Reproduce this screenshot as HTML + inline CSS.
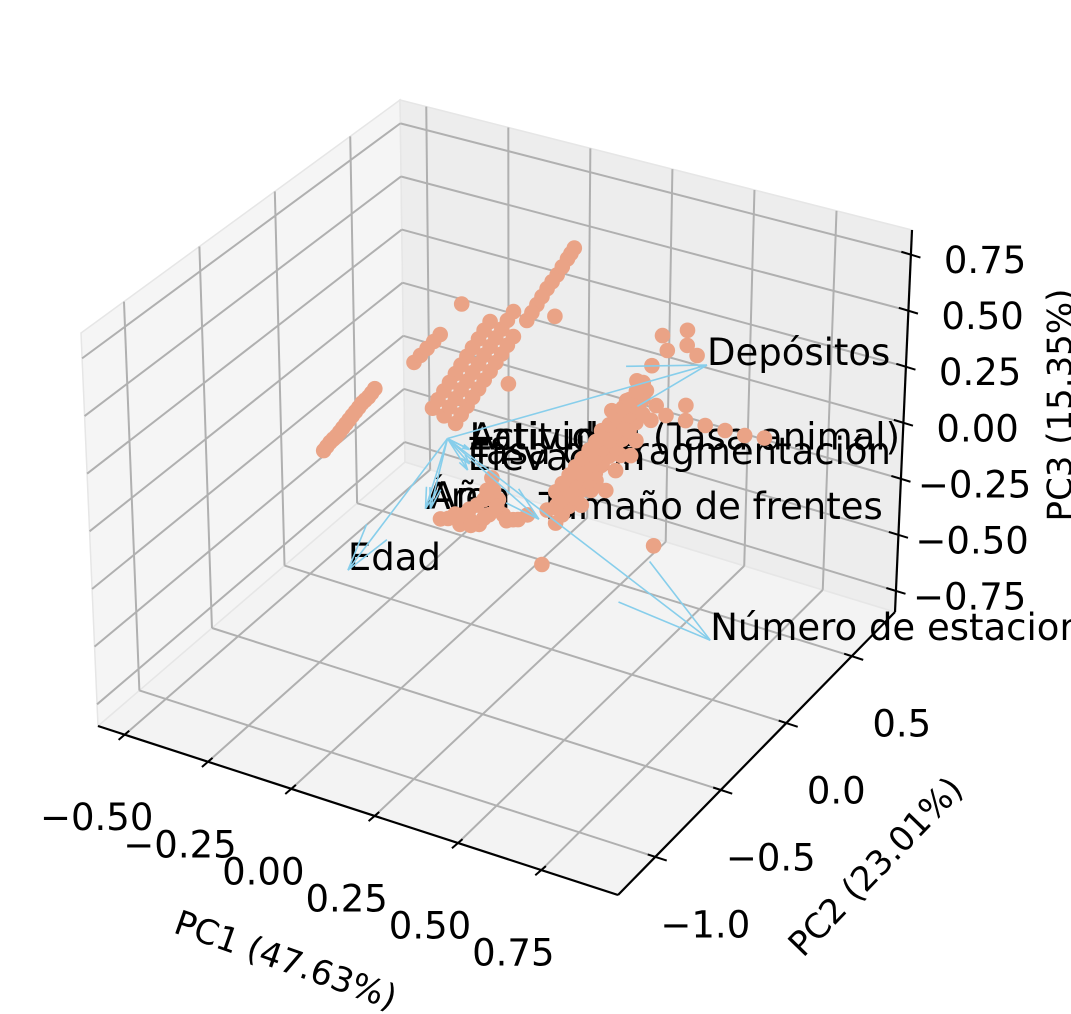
<!DOCTYPE html>
<html><head><meta charset="utf-8"><style>
html,body{margin:0;padding:0;background:#fff;}
svg{display:block;font-family:"DejaVu Sans","Liberation Sans",sans-serif;}
</style></head><body>
<svg id="chart" width="1071" height="1014" viewBox="0 0 1071 1014" xmlns="http://www.w3.org/2000/svg">
<g id="panes"></g>
<g id="grid"></g>
<g id="axes"></g>
<g id="ticks"></g>
<g id="loadtext"></g>
<g id="points"></g>
<g id="arrows"></g>
<text x="285" y="962" font-size="34" text-anchor="middle" dominant-baseline="middle" transform="rotate(19.5 285 962)">PC1 (47.63%)</text>
<text x="877" y="868" font-size="34" text-anchor="middle" dominant-baseline="middle" transform="rotate(-46 877 868)">PC2 (23.01%)</text>
<text x="1062" y="405" font-size="34" text-anchor="middle" dominant-baseline="middle" transform="rotate(-90 1062 405)">PC3 (15.35%)</text>
</svg>
<script>
// axis ranges and ticks
const pc1Range = [-0.58, 0.98];
const pc2Range = [-1.285, 0.83];
const pc3Range = [-0.844, 0.86];
const pc1Ticks = [-0.5, -0.25, 0, 0.25, 0.5, 0.75];
const pc1TickLabels = ["\u22120.50", "\u22120.25", "0.00", "0.25", "0.50", "0.75"];
const pc2Ticks = [-1.0, -0.5, 0, 0.5];
const pc2TickLabels = ["\u22121.0", "\u22120.5", "0.0", "0.5"];
const pc3Ticks = [-0.75, -0.5, -0.25, 0, 0.25, 0.5, 0.75];
const pc3TickLabels = ["\u22120.75", "\u22120.50", "\u22120.25", "0.00", "0.25", "0.50", "0.75"];

// scores (PC1, PC2, PC3)
const pc1Vals = [
-0.45,-0.43,-0.41,-0.39,-0.37,-0.35,-0.33,-0.31,-0.29,-0.44,-0.42,-0.40,-0.38,-0.36,-0.34,-0.32,-0.30,
-0.17,-0.15,-0.13,-0.11,-0.09,
-0.08,-0.045,-0.01,0.025,0.06,0.095,0.13,
-0.115,-0.08,-0.045,-0.01,0.025,0.06,
-0.045,-0.01,0.025,0.06,0.095,0.13,
-0.063,-0.028,0.007,0.042,0.077,0.112,
-0.098,-0.063,-0.028,0.007,0.042,
-0.028,0.007,0.042,0.077,0.112,
0.17,0.20,0.23,0.26,0.29,0.31,0.185,0.215,0.245,0.275,0.30,
-0.093,-0.048,-0.004,0.041,0.07,-0.004,0.056,0.10,0.085,0.13,0.026,-0.033,0.174,0.263,0.065,0.145,
0.278,0.323,0.367,0.308,0.352,0.397,0.367,0.412,0.441,0.397,0.441,0.486,0.471,0.516,0.530,0.427,0.456,0.501,0.382,0.234,0.338,0.545,0.441,0.486,0.412,
0.59,0.649,0.708,0.768,0.827,0.886,0.649,0.56,
0.501,0.545,0.59,0.649,0.575,0.649,0.679,
0.219,0.56,-0.025,0.115,0.254,
0.26,0.28,0.30,0.32,0.34,0.36,0.38,0.40,0.42,0.44,0.46,0.48,0.50,0.52,
0.26,0.28,0.30,0.32,0.34,0.36,0.38,0.40,0.42,0.44,0.46,0.48,0.50,0.52,
0.26,0.28,0.30,0.32,0.34,0.36,0.38,0.40,0.42,0.44,0.46,0.48,0.50,0.52,
-0.07,-0.02,0.02,0.04,0.08,0.11,0.05,0.0];
const pc2Vals = pc1Vals.map(function(){return 0;});
const pc3Vals = [
-0.262,-0.216,-0.179,-0.133,-0.087,-0.041,0.006,0.042,0.089,-0.239,-0.197,-0.156,-0.11,-0.064,-0.018,0.024,0.065,
0.26,0.30,0.34,0.38,0.42,
0.058,0.151,0.244,0.337,0.43,0.523,0.616,
0.077,0.17,0.263,0.356,0.449,0.542,
0.039,0.132,0.225,0.318,0.411,0.504,
0.105,0.198,0.29,0.383,0.476,0.569,
0.123,0.216,0.309,0.402,0.495,
0.086,0.179,0.272,0.365,0.458,
0.593,0.677,0.761,0.835,0.919,0.975,0.635,0.719,0.798,0.877,0.947,
-0.412,-0.37,-0.329,-0.266,-0.21,-0.373,-0.327,-0.308,-0.247,-0.317,-0.384,-0.41,-0.276,-0.194,-0.158,-0.31,
-0.164,-0.123,-0.082,-0.063,0.0,0.042,0.074,0.137,0.194,0.197,0.261,0.302,0.362,0.382,0.432,0.299,0.112,0.197,-0.032,-0.228,-0.161,0.306,0.038,0.124,-0.063,
0.346,0.349,0.352,0.355,0.358,0.371,0.416,0.378,
0.463,0.549,0.635,0.682,0.695,0.749,0.65,
-0.478,-0.245,0.585,0.286,0.647,
-0.275,-0.229,-0.183,-0.137,-0.091,-0.045,0.001,0.047,0.093,0.139,0.185,0.231,0.277,0.323,
-0.205,-0.159,-0.113,-0.067,-0.021,0.025,0.071,0.117,0.163,0.209,0.255,0.301,0.347,0.393,
-0.135,-0.089,-0.043,0.003,0.049,0.095,0.141,0.187,0.233,0.279,0.325,0.371,0.417,0.463,
-0.40,-0.36,-0.30,-0.35,-0.28,-0.33,-0.22,-0.40];

// loadings
const loadNames = ["Depósitos","Edad","Número de estaciones","Latitud","Actividad (Tasa animal)","Tasa de fragmentación","Elevación","Área","Año","Tamaño de frentes"];
const load1 = [0.709,-0.382,0.739,-0.003,-0.003,-0.003,-0.009,-0.139,-0.124,0.209];
const load2 = [0,0,0,0,0,0,0,0,0,0];
const load3 = [0.62,-0.774,-0.585,-0.06,-0.06,-0.125,-0.155,-0.387,-0.380,-0.28];
const arrowOrigin = [-0.07, 0, -0.04];

// box corners in screen space (floor / top)
const F00=[98,726],F10=[618,895],F01=[405,462],F11=[895,612];
const T00=[81,333],T10=[625,500],T01=[400,100],T11=[912,230];
function bil(a,b,c,d,u,v){return [(1-u)*(1-v)*a[0]+u*(1-v)*b[0]+(1-u)*v*c[0]+u*v*d[0],(1-u)*(1-v)*a[1]+u*(1-v)*b[1]+(1-u)*v*c[1]+u*v*d[1]];}
function proj(p1,p2,p3){
  const u=(p1-pc1Range[0])/(pc1Range[1]-pc1Range[0]);
  const v=(p2-pc2Range[0])/(pc2Range[1]-pc2Range[0]);
  const w=(p3-pc3Range[0])/(pc3Range[1]-pc3Range[0]);
  const f=bil(F00,F10,F01,F11,u,v), t=bil(T00,T10,T01,T11,u,v);
  return [f[0]+(t[0]-f[0])*w, f[1]+(t[1]-f[1])*w];
}
const NS="http://www.w3.org/2000/svg";
function mk(tag,attrs,parent){const e=document.createElementNS(NS,tag);for(const k in attrs)e.setAttribute(k,attrs[k]);parent.appendChild(e);return e;}
function line(a,b,stroke,sw,parent){return mk('line',{x1:a[0],y1:a[1],x2:b[0],y2:b[1],stroke:stroke,'stroke-width':sw},parent);}
const [X0,X1]=pc1Range,[Y0,Y1]=pc2Range,[Z0,Z1]=pc3Range;

// panes
const gP=document.getElementById('panes');
function poly(pts,fill,name){const p=mk('polygon',{points:pts.map(q=>q.join(',')).join(' '),fill:fill,stroke:'#e6e6e6','stroke-width':1.5},gP);

}
poly([proj(X0,Y0,Z0),proj(X1,Y0,Z0),proj(X1,Y1,Z0),proj(X0,Y1,Z0)],'#f3f3f3','floor-pane');
poly([proj(X0,Y0,Z0),proj(X0,Y1,Z0),proj(X0,Y1,Z1),proj(X0,Y0,Z1)],'#f5f5f5','left-pane');
poly([proj(X0,Y1,Z0),proj(X1,Y1,Z0),proj(X1,Y1,Z1),proj(X0,Y1,Z1)],'#ededed','back-pane');

// grid
const gG=document.getElementById('grid');
const GC='#b0b0b0';
pc1Ticks.forEach(t=>{
  const l1=line(proj(t,Y0,Z0),proj(t,Y1,Z0),GC,2,gG);
  
  
  const l2=line(proj(t,Y1,Z0),proj(t,Y1,Z1),GC,2,gG);
  
  
});
pc2Ticks.forEach(t=>{
  const l1=line(proj(X1,t,Z0),proj(X0,t,Z0),GC,2,gG);
  
  
  const l2=line(proj(X0,t,Z0),proj(X0,t,Z1),GC,2,gG);
  
  
});
pc3Ticks.forEach(t=>{
  const l1=line(proj(X0,Y0,t),proj(X0,Y1,t),GC,2,gG);
  
  
  const l2=line(proj(X0,Y1,t),proj(X1,Y1,t),GC,2,gG);
  
  
});

// axis lines
const gA=document.getElementById('axes');
let ax=line(proj(X0,Y0,Z0),proj(X1,Y0,Z0),'#000',2.2,gA);


ax=line(proj(X1,Y0,Z0),proj(X1,Y1,Z0),'#000',2.2,gA);


ax=line(proj(X1,Y1,Z0),proj(X1,Y1,Z1),'#000',2.2,gA);



function unit(a,b){const dx=b[0]-a[0],dy=b[1]-a[1],l=Math.hypot(dx,dy);return [dx/l,dy/l];}
const gT=document.getElementById('ticks');
const d2=unit(proj(X0,Y1,Z0),proj(X0,Y0,Z0));
pc1Ticks.forEach((t,i)=>{
  const p=proj(t,Y0,Z0);
  const tk=line([p[0]-d2[0]*6,p[1]-d2[1]*6],[p[0]+d2[0]*8,p[1]+d2[1]*8],'#000',2,gT);
  
  
  const tx=mk('text',{x:p[0]-28,y:p[1]+85,'font-size':37,'text-anchor':'middle','dominant-baseline':'middle'},gT);
  tx.textContent=pc1TickLabels[i];
  
  
});
const d1=unit(proj(X0,Y0,Z0),proj(X1,Y0,Z0));
pc2Ticks.forEach((t,i)=>{
  const p=proj(X1,t,Z0);
  const tk=line([p[0]-d1[0]*8,p[1]-d1[1]*8],[p[0]+d1[0]*12,p[1]+d1[1]*12],'#000',2,gT);
  
  
  const tx=mk('text',{x:p[0]+50,y:p[1]+70,'font-size':37,'text-anchor':'middle','dominant-baseline':'middle'},gT);
  tx.textContent=pc2TickLabels[i];
  
  
});
const d1b=unit(proj(X0,Y1,Z0),proj(X1,Y1,Z0));
pc3Ticks.forEach((t,i)=>{
  const p=proj(X1,Y1,t);
  const tk=line([p[0]-d1b[0]*10,p[1]-d1b[1]*10],[p[0]+d1b[0]*10,p[1]+d1b[1]*10],'#000',2,gT);
  
  
  const tx=mk('text',{x:p[0]+(t<0?17:33),y:p[1]+8,'font-size':37,'text-anchor':'start','dominant-baseline':'middle'},gT);
  tx.textContent=pc3TickLabels[i];
  
  
});

// loading labels
const gL=document.getElementById('loadtext');
loadNames.forEach((n,i)=>{
  const p=proj(load1[i],load2[i],load3[i]);
  const tx=mk('text',{x:p[0],y:p[1],'font-size':37,'text-anchor':'start'},gL);
  tx.textContent=n;
  
  
});

// points
const gS=document.getElementById('points');
pc1Vals.forEach((v,i)=>{
  const p=proj(v,pc2Vals[i],pc3Vals[i]);
  const c=mk('circle',{cx:p[0].toFixed(1),cy:p[1].toFixed(1),r:7.8,fill:'#eaa386'},gS);
  
  
});

// arrows
const gR=document.getElementById('arrows');
const o=proj(arrowOrigin[0],arrowOrigin[1],arrowOrigin[2]);
loadNames.forEach((n,i)=>{
  const t=proj(load1[i],load2[i],load3[i]);
  const g=mk('g',{},gR);
  
  
  line(o,t,'#87ceeb',1.6,g);
  const dx=o[0]-t[0],dy=o[1]-t[1],L=Math.hypot(dx,dy);
  if(L<1)return;
  const hl=0.3*L,ang=Math.atan2(dy,dx);
  [0.26,-0.26].forEach(a=>{
    line(t,[t[0]+hl*Math.cos(ang+a),t[1]+hl*Math.sin(ang+a)],'#87ceeb',1.6,g);
  });
});
</script>
</body></html>
